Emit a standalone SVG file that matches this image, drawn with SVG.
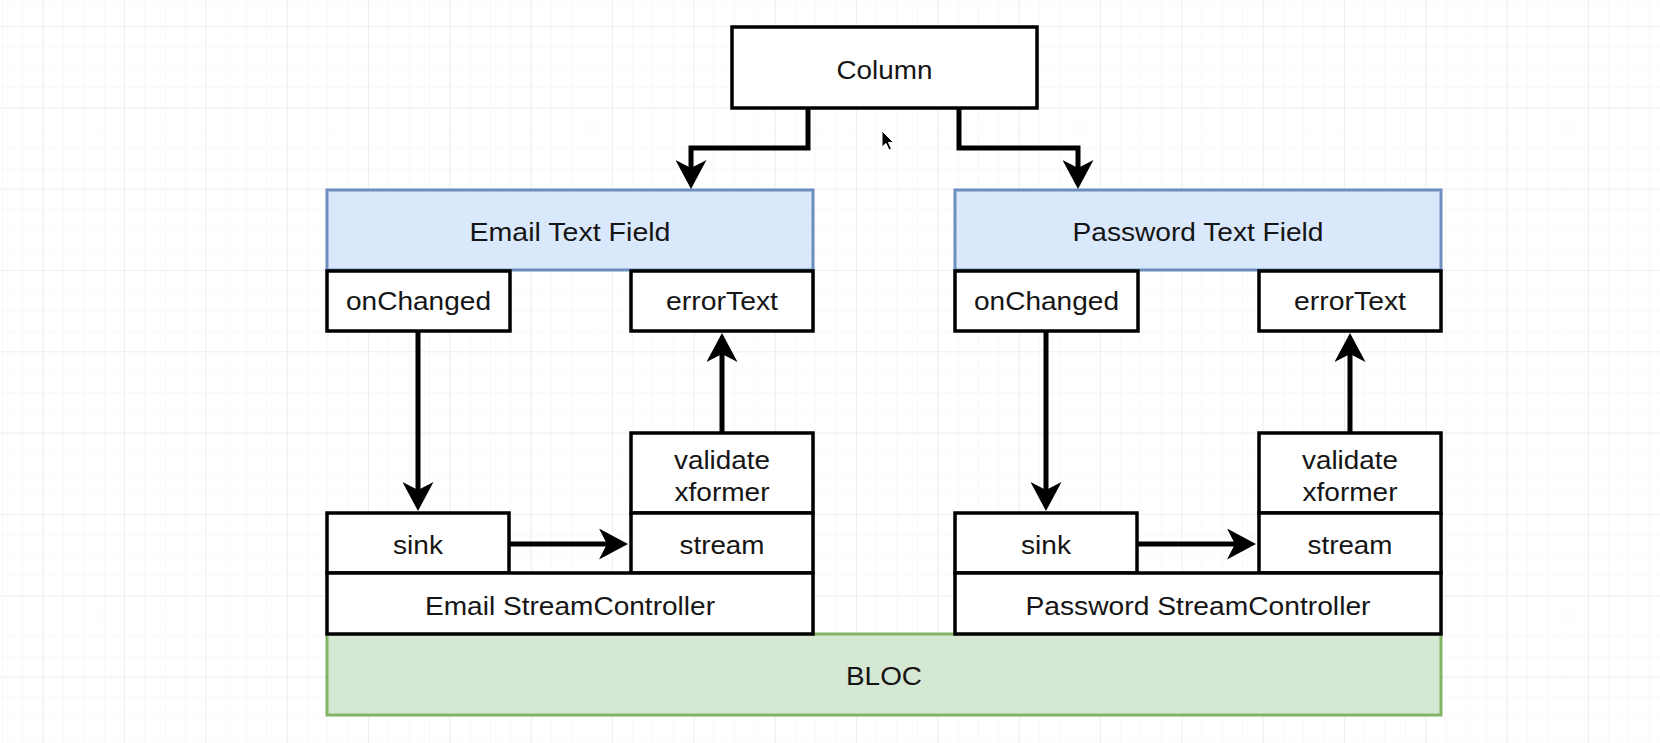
<svg xmlns="http://www.w3.org/2000/svg" width="1660" height="743" viewBox="0 0 1660 743">
  <defs>
    <pattern id="gridMinor" patternUnits="userSpaceOnUse" x="42.7" y="26" width="20.33" height="20.33">
      <path d="M0,0 H20.33 M0,0 V20.33" fill="none" stroke="#f4f4f4" stroke-width="1.2"/>
    </pattern>
    <pattern id="gridMajor" patternUnits="userSpaceOnUse" x="42.7" y="26" width="81.33" height="81.33">
      <path d="M0,0 H81.33 M0,0 V81.33" fill="none" stroke="#ececec" stroke-width="1.5"/>
    </pattern>
    <marker id="arrow" viewBox="0 0 29 31" refX="8" refY="15.5" markerWidth="29" markerHeight="31" markerUnits="userSpaceOnUse" orient="auto">
      <path d="M29,15.5 L0,0 L8,15.5 L0,31 Z" fill="#000"/>
    </marker>
    <style>
      .box { fill: #ffffff; stroke: #000000; stroke-width: 3.5; }
      .blue { fill: #dae8fc; stroke: #6c8ebf; stroke-width: 3; }
      .green { fill: #d5e8d4; stroke: #82b366; stroke-width: 3; }
      .lbl { font-family: "Liberation Sans", Arial, Helvetica, sans-serif; font-size: 26px; fill: #151515; text-anchor: middle; }
      .edge { fill: none; stroke: #000000; stroke-width: 5; marker-end: url(#arrow); }
    </style>
  </defs>

  <rect x="0" y="0" width="1660" height="743" fill="#ffffff"/>
  <rect x="0" y="0" width="1660" height="743" fill="url(#gridMinor)"/>
  <rect x="0" y="0" width="1660" height="743" fill="url(#gridMajor)"/>

  <g id="bloc">
    <rect class="green" x="327" y="634" width="1114" height="81"/>
    <text class="lbl" x="884" y="685" textLength="76" lengthAdjust="spacingAndGlyphs">BLOC</text>
  </g>

  <g id="column">
    <rect class="box" x="732" y="27" width="305" height="81"/>
    <text class="lbl" x="884.5" y="79" textLength="96" lengthAdjust="spacingAndGlyphs">Column</text>
  </g>

  <g id="email-text-field">
    <rect class="blue" x="327" y="190" width="486" height="80"/>
    <text class="lbl" x="570" y="241" textLength="201" lengthAdjust="spacingAndGlyphs">Email Text Field</text>
  </g>
  <g id="email-onchanged">
    <rect class="box" x="327" y="271" width="183" height="60"/>
    <text class="lbl" x="418.5" y="310" textLength="145" lengthAdjust="spacingAndGlyphs">onChanged</text>
  </g>
  <g id="email-errortext">
    <rect class="box" x="631" y="271" width="182" height="60"/>
    <text class="lbl" x="722" y="310" textLength="112" lengthAdjust="spacingAndGlyphs">errorText</text>
  </g>
  <g id="email-validate">
    <rect class="box" x="631" y="433" width="182" height="80"/>
    <text class="lbl" x="722" y="469" textLength="96" lengthAdjust="spacingAndGlyphs">validate</text>
    <text class="lbl" x="722" y="501" textLength="95" lengthAdjust="spacingAndGlyphs">xformer</text>
  </g>
  <g id="email-sink">
    <rect class="box" x="327" y="513" width="182" height="60"/>
    <text class="lbl" x="418" y="554" textLength="50" lengthAdjust="spacingAndGlyphs">sink</text>
  </g>
  <g id="email-stream">
    <rect class="box" x="631" y="513" width="182" height="60"/>
    <text class="lbl" x="722" y="554" textLength="85" lengthAdjust="spacingAndGlyphs">stream</text>
  </g>
  <g id="email-streamcontroller">
    <rect class="box" x="327" y="573" width="486" height="61"/>
    <text class="lbl" x="570" y="615" textLength="290" lengthAdjust="spacingAndGlyphs">Email StreamController</text>
  </g>

  <g id="password-text-field">
    <rect class="blue" x="955" y="190" width="486" height="80"/>
    <text class="lbl" x="1198" y="241" textLength="251" lengthAdjust="spacingAndGlyphs">Password Text Field</text>
  </g>
  <g id="password-onchanged">
    <rect class="box" x="955" y="271" width="183" height="60"/>
    <text class="lbl" x="1046.5" y="310" textLength="145" lengthAdjust="spacingAndGlyphs">onChanged</text>
  </g>
  <g id="password-errortext">
    <rect class="box" x="1259" y="271" width="182" height="60"/>
    <text class="lbl" x="1350" y="310" textLength="112" lengthAdjust="spacingAndGlyphs">errorText</text>
  </g>
  <g id="password-validate">
    <rect class="box" x="1259" y="433" width="182" height="80"/>
    <text class="lbl" x="1350" y="469" textLength="96" lengthAdjust="spacingAndGlyphs">validate</text>
    <text class="lbl" x="1350" y="501" textLength="95" lengthAdjust="spacingAndGlyphs">xformer</text>
  </g>
  <g id="password-sink">
    <rect class="box" x="955" y="513" width="182" height="60"/>
    <text class="lbl" x="1046" y="554" textLength="50" lengthAdjust="spacingAndGlyphs">sink</text>
  </g>
  <g id="password-stream">
    <rect class="box" x="1259" y="513" width="182" height="60"/>
    <text class="lbl" x="1350" y="554" textLength="85" lengthAdjust="spacingAndGlyphs">stream</text>
  </g>
  <g id="password-streamcontroller">
    <rect class="box" x="955" y="573" width="486" height="61"/>
    <text class="lbl" x="1198" y="615" textLength="345" lengthAdjust="spacingAndGlyphs">Password StreamController</text>
  </g>

  <g id="connectors">
    <path class="edge" d="M808,108 V148 H691 V168"/>
    <path class="edge" d="M959,108 V148 H1078 V168"/>
    <path class="edge" d="M418,331 V490"/>
    <path class="edge" d="M722,433 V354"/>
    <path class="edge" d="M509,544 H607"/>
    <path class="edge" d="M1046,331 V490"/>
    <path class="edge" d="M1350,433 V354"/>
    <path class="edge" d="M1137,544 H1235"/>
  </g>

  <g id="cursor">
    <path d="M882,131 L882,147 L886,143.5 L889,150 L891.5,149 L888.5,142.5 L893.5,142.5 Z" fill="#000" stroke="#ffffff" stroke-width="1"/>
  </g>
</svg>
